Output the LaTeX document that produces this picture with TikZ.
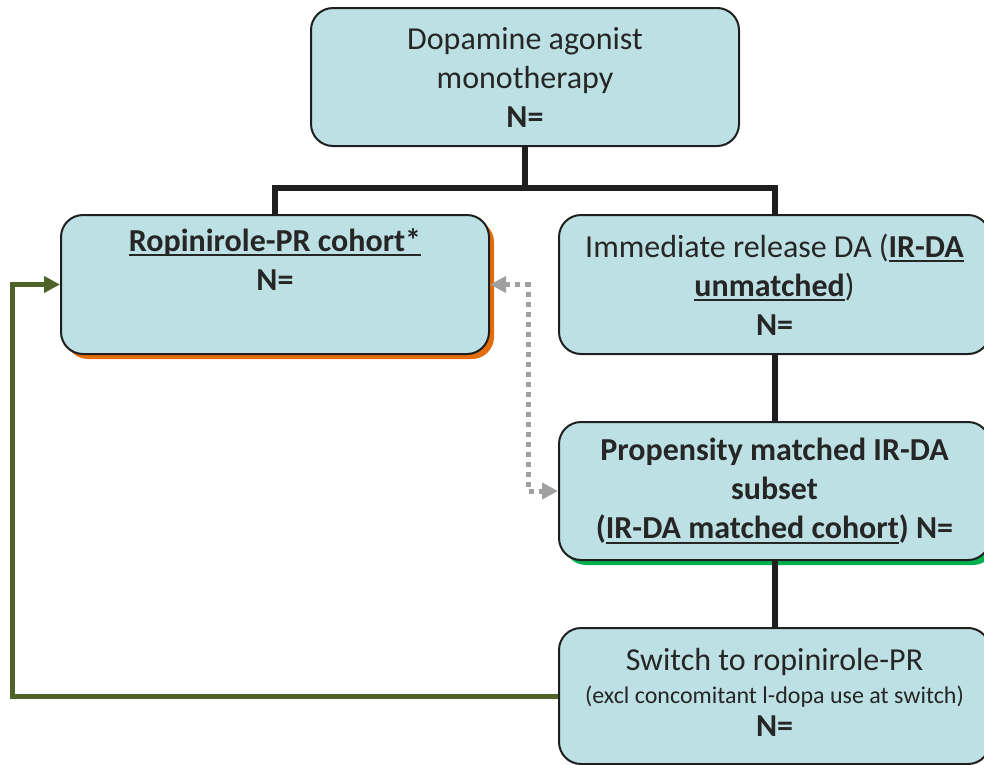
\documentclass[tikz,border=0pt]{standalone}
\usepackage{fontspec}
\setmainfont{Carlito}
\newsavebox\myulbox
\newcommand\myul[1]{\sbox\myulbox{#1}\rlap{\rule[-5pt]{\wd\myulbox}{2pt}}\usebox\myulbox}
\usetikzlibrary{arrows.meta}
\definecolor{boxfill}{HTML}{BCE0E3}
\definecolor{txt}{HTML}{262626}
\definecolor{shorange}{HTML}{E46C0A}
\definecolor{shgreen}{HTML}{00B050}
\definecolor{loopgreen}{HTML}{4F6228}
\definecolor{dotgray}{HTML}{A0A0A0}
\begin{document}
\begin{tikzpicture}[x=1pt,y=-1pt,
  box/.style={draw=black!88, line width=2pt, fill=boxfill, rounded corners=22pt,
    align=center, inner sep=0pt, text=txt, font=\fontsize{32}{39}\selectfont},
  conn/.style={draw=black!88, line width=6pt},
  dotconn/.style={draw=dotgray, line width=5pt, dash pattern=on 5pt off 5pt,
    {Triangle[length=16pt,width=16pt]}-{Triangle[length=16pt,width=16pt]}},
  loopconn/.style={draw=loopgreen, line width=5pt, -{Triangle[length=16pt,width=16pt]}}]
\useasboundingbox (0,0) rectangle (984,764);
% shadows
\fill[shorange, rounded corners=22pt] (66,220) rectangle (494,359);
\fill[shgreen, rounded corners=22pt] (564,427) rectangle (995,565);
% boxes
\node[box, minimum width=428pt, minimum height=138pt] (top) at (525,77)
  {Dopamine agonist\\monotherapy\\\textbf{N=}};
\node[box, minimum width=428pt, minimum height=139pt] (rop) at (275,284.5)
  {\textbf{\myul{Ropinirole-PR cohort*}}\\\textbf{N=}\\\strut};
\node[box, minimum width=431pt, minimum height=139pt] (ir) at (774.5,284.5)
  {Immediate release DA (\textbf{\myul{IR-DA}}\\\textbf{\myul{unmatched}})\\\textbf{N=}};
\node[box, minimum width=431pt, minimum height=138pt] (prop) at (774.5,491)
  {\textbf{Propensity matched IR-DA}\\\textbf{subset}\\\textbf{(\myul{IR-DA matched cohort}) N=}};
\node[box, minimum width=431pt, minimum height=136pt] (sw) at (774.5,696)
  {Switch to ropinirole-PR\\[-6pt]{\fontsize{24}{28}\selectfont (excl concomitant l-dopa use at switch)}\\[-6pt]\textbf{N=}\\[-31pt]\mbox{}};
% connectors
\draw[conn] (top.south) -- ++(0,41) coordinate (split) -| (rop.north);
\draw[conn] (split) -| (ir.north);
\draw[conn] (ir.south) -- (prop.north);
\draw[conn] (prop.south) -- (sw.north);
\draw[dotconn] (rop.east) -- ++(38,0) |- (prop.west);
\draw[loopconn] (sw.west) -- ++(-546,0) |- (rop.west);
\end{tikzpicture}
\end{document}
